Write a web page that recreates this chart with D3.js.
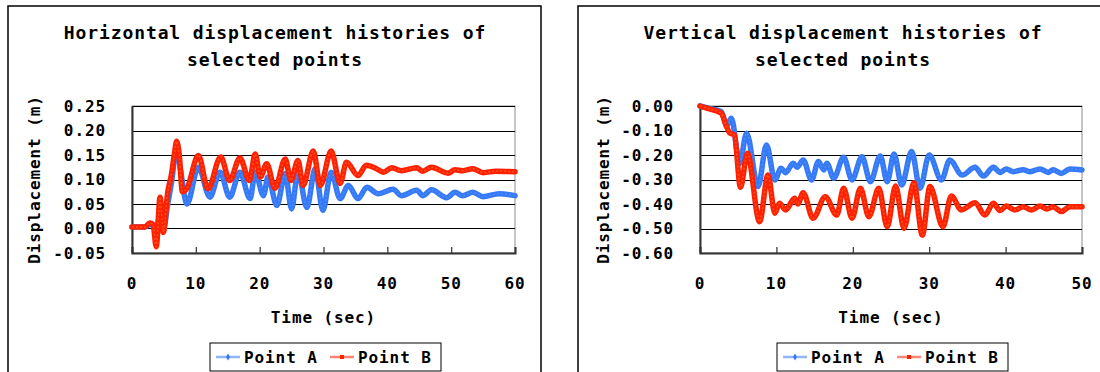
<!DOCTYPE html>
<html>
<head>
<meta charset="utf-8">
<script src="https://cdn.jsdelivr.net/npm/d3@7/dist/d3.min.js"></script>
<style>
  html, body { margin: 0; padding: 0; background: #fff; }
  svg text { font-family: "DejaVu Sans Mono", monospace; fill: #000; font-weight: bold; }
</style>
</head>
<body>
<svg id="chart" width="1100" height="372"></svg>
<script>
// ---------- DATA ----------
// Horizontal displacement chart
const hTitle = ["Horizontal displacement histories of", "selected points"];
const hXTicks = [0, 10, 20, 30, 40, 50, 60];
const hYTicks = [-0.05, 0.00, 0.05, 0.10, 0.15, 0.20, 0.25];
const hTimeA = [0, 2.0, 2.8, 3.3, 3.8, 4.5, 5.0, 5.6, 6.2, 7.0, 7.6, 8.6, 10.4, 12.2, 13.8, 15.3, 16.9, 18.5, 19.3, 20.6, 21.3, 22.7, 24.0, 25.0, 26.0, 27.4, 28.7, 29.9, 31.2, 32.6, 33.9, 35.4, 36.8, 38.6, 40.9, 42.2, 44.6, 45.6, 46.9, 49.3, 50.6, 51.8, 53.4, 55.0, 57.5, 60.0];
const hPointA = [0.003, 0.003, 0.008, 0.006, -0.010, 0.043, 0.003, 0.050, 0.095, 0.165, 0.120, 0.050, 0.125, 0.064, 0.115, 0.064, 0.115, 0.061, 0.115, 0.067, 0.105, 0.047, 0.112, 0.040, 0.115, 0.043, 0.122, 0.037, 0.115, 0.061, 0.088, 0.061, 0.084, 0.071, 0.080, 0.067, 0.078, 0.067, 0.079, 0.063, 0.074, 0.067, 0.074, 0.065, 0.071, 0.067];
const hTimeB = [0, 2.0, 2.8, 3.3, 3.8, 4.4, 4.9, 5.6, 6.2, 6.6, 7.0, 7.4, 7.9, 8.6, 10.4, 11.9, 13.9, 15.3, 16.9, 18.4, 19.3, 20.1, 21.1, 22.4, 24.0, 24.9, 26.0, 26.8, 28.4, 29.5, 31.2, 32.6, 33.6, 35.4, 36.7, 38.3, 39.4, 40.7, 42.2, 44.6, 45.5, 46.9, 49.5, 50.6, 51.8, 53.4, 55.0, 57.0, 60.0];
const hPointB = [0.003, 0.003, 0.011, 0.008, -0.037, 0.064, -0.008, 0.074, 0.112, 0.148, 0.178, 0.150, 0.075, 0.082, 0.149, 0.081, 0.146, 0.098, 0.144, 0.098, 0.152, 0.105, 0.132, 0.082, 0.142, 0.098, 0.139, 0.088, 0.158, 0.088, 0.158, 0.092, 0.135, 0.108, 0.129, 0.122, 0.115, 0.124, 0.118, 0.124, 0.117, 0.125, 0.113, 0.120, 0.118, 0.122, 0.114, 0.117, 0.116];

// Vertical displacement chart
const vTitle = ["Vertical displacement histories of", "selected points"];
const vXTicks = [0, 10, 20, 30, 40, 50];
const vYTicks = [-0.60, -0.50, -0.40, -0.30, -0.20, -0.10, 0.00];
const vTimeA = [0, 1.0, 2.8, 3.5, 4.1, 5.2, 6.1, 7.6, 8.7, 9.8, 10.6, 11.2, 12.2, 12.7, 13.5, 14.6, 15.5, 16.2, 16.6, 17.5, 18.8, 19.9, 21.2, 22.3, 23.6, 24.5, 25.4, 26.4, 27.7, 28.8, 30.0, 31.6, 32.7, 34.3, 36.0, 37.1, 38.4, 39.3, 40.1, 41.0, 42.3, 43.2, 44.5, 45.6, 46.2, 47.3, 48.4, 50.0];
const vPointA = [0, -0.008, -0.023, -0.080, -0.050, -0.234, -0.111, -0.329, -0.159, -0.302, -0.254, -0.272, -0.234, -0.250, -0.220, -0.302, -0.227, -0.261, -0.234, -0.295, -0.209, -0.302, -0.207, -0.309, -0.204, -0.309, -0.196, -0.322, -0.186, -0.336, -0.200, -0.302, -0.220, -0.282, -0.250, -0.286, -0.250, -0.271, -0.257, -0.268, -0.260, -0.268, -0.257, -0.271, -0.260, -0.275, -0.257, -0.261];
const vTimeB = [0, 1.0, 2.8, 3.4, 3.9, 4.5, 5.3, 6.2, 7.8, 8.9, 9.8, 10.4, 11.2, 12.4, 12.8, 13.5, 14.8, 16.4, 17.9, 18.8, 19.9, 21.0, 22.1, 23.4, 24.5, 25.6, 26.7, 28.0, 29.1, 30.1, 31.8, 32.9, 34.2, 36.0, 37.3, 38.4, 39.3, 40.1, 41.2, 42.3, 43.4, 44.5, 45.4, 46.2, 47.3, 48.4, 50.0];
const vPointB = [0, -0.010, -0.030, -0.078, -0.110, -0.118, -0.332, -0.193, -0.472, -0.282, -0.438, -0.397, -0.424, -0.377, -0.400, -0.354, -0.458, -0.370, -0.445, -0.336, -0.458, -0.336, -0.452, -0.336, -0.493, -0.327, -0.499, -0.313, -0.527, -0.329, -0.493, -0.367, -0.424, -0.395, -0.445, -0.397, -0.427, -0.408, -0.424, -0.411, -0.424, -0.408, -0.420, -0.411, -0.431, -0.411, -0.411];

const seriesNames = ["Point A", "Point B"];
const seriesColors = ["#3579f6", "#ff2000"];
const xLabel = "Time (sec)";
const yLabel = "Displacement (m)";

// ---------- DRAW ----------
const svg = d3.select("#chart");

function drawPanel(cfg) {
  const g = svg.append("g");
  g.append("rect")
    .attr("x", cfg.frame[0]).attr("y", cfg.frame[1])
    .attr("width", cfg.frame[2]).attr("height", cfg.frame[3])
    .attr("fill", "#fff").attr("stroke", "#000").attr("stroke-width", 1.5);

  const x = d3.scaleLinear().domain(cfg.xDomain).range([cfg.plot.left, cfg.plot.right]);
  const y = d3.scaleLinear().domain(cfg.yDomain).range([cfg.plot.bottom, cfg.plot.top]);

  cfg.title.forEach((t, i) => {
    g.append("text").attr("x", cfg.titleX).attr("y", 39 + i * 27)
      .attr("text-anchor", "middle").attr("font-size", 18).attr("letter-spacing", 0.9)
      .text(t);
  });

  g.append("rect")
    .attr("x", cfg.plot.left).attr("y", cfg.plot.top)
    .attr("width", cfg.plot.right - cfg.plot.left).attr("height", cfg.plot.bottom - cfg.plot.top)
    .attr("fill", "none").attr("stroke", "#8c8c8c").attr("stroke-width", 1);

  g.append("g").selectAll("line").data(cfg.yTicks).join("line")
    .attr("x1", cfg.plot.left).attr("x2", cfg.plot.right)
    .attr("y1", d => Math.round(y(d)) + 0.5).attr("y2", d => Math.round(y(d)) + 0.5)
    .attr("stroke", "#000").attr("stroke-width", 1);

  const xAxis = d3.axisTop(x).tickValues(cfg.xTicks).tickSize(6).tickFormat("");
  const xa = g.append("g").attr("transform", `translate(0,${cfg.plot.bottom})`).call(xAxis);
  xa.select(".domain").attr("stroke", "#333").attr("stroke-width", 2);
  xa.selectAll(".tick line").attr("stroke", "#333").attr("stroke-width", 1.2);
  g.append("g").selectAll("text").data(cfg.xTicks).join("text")
    .attr("x", d => x(d)).attr("y", cfg.plot.bottom + 36)
    .attr("text-anchor", "middle").attr("font-size", 16).attr("letter-spacing", 0.9)
    .text(d => d3.format("d")(d));

  const yAxis = d3.axisRight(y).tickValues(cfg.yTicks).tickSize(0).tickFormat("");
  const ya = g.append("g").attr("transform", `translate(${cfg.plot.left},0)`).call(yAxis);
  ya.select(".domain").attr("stroke", "#333").attr("stroke-width", 2);
  g.append("g").selectAll("text").data(cfg.yTicks).join("text")
    .attr("x", cfg.plot.left - 26).attr("y", d => y(d))
    .attr("dy", "0.36em")
    .attr("text-anchor", "end").attr("font-size", 16).attr("letter-spacing", 0.9)
    .text(d => d3.format(".2f")(d).replace("−", "-"));

  g.append("text").attr("x", (cfg.plot.left + cfg.plot.right) / 2).attr("y", cfg.plot.bottom + 70)
    .attr("text-anchor", "middle").attr("font-size", 16).attr("letter-spacing", 0.9).text(xLabel);
  g.append("text")
    .attr("transform", `translate(${cfg.yTitleX},${(cfg.plot.top + cfg.plot.bottom) / 2}) rotate(-90)`)
    .attr("text-anchor", "middle").attr("dy", "0.36em").attr("font-size", 16).attr("letter-spacing", 0.9)
    .text(yLabel);

  const line = d3.line().x(d => x(d[0])).y(d => y(d[1])).curve(d3.curveMonotoneX);
  cfg.series.forEach((s, i) => {
    const pts = s.t.map((t, k) => [t, s.v[k]]);
    g.append("path").datum(pts)
      .attr("d", line).attr("fill", "none")
      .attr("stroke", seriesColors[i]).attr("stroke-width", 5.5)
      .attr("stroke-linejoin", "round").attr("stroke-linecap", "round");
    g.append("path").datum(pts)
      .attr("d", line).attr("fill", "none")
      .attr("stroke", i === 0 ? "#4a8cff" : "#ff5020").attr("stroke-width", 1.5)
      .attr("stroke-dasharray", "2 2");
  });

  const L = cfg.legend;
  const lg = g.append("g").attr("transform", `translate(${L.x},${L.y})`);
  lg.append("rect").attr("x", 0).attr("y", 0).attr("width", L.w).attr("height", 28)
    .attr("fill", "#fff").attr("stroke", "#000").attr("stroke-width", 1);
  const offsets = [6, 120];
  seriesNames.forEach((n, i) => {
    const ox = offsets[i];
    lg.append("line").attr("x1", ox).attr("x2", ox + 24).attr("y1", 14).attr("y2", 14)
      .attr("stroke", seriesColors[i]).attr("stroke-opacity", 0.55).attr("stroke-width", 2.5);
    if (i === 0) {
      lg.append("path").attr("d", d3.symbol(d3.symbolDiamond, 14)())
        .attr("transform", `translate(${ox + 12},14)`).attr("fill", seriesColors[i]);
    } else {
      lg.append("rect").attr("x", ox + 10).attr("y", 12).attr("width", 4).attr("height", 4)
        .attr("fill", seriesColors[i]);
    }
    lg.append("text").attr("x", ox + 28).attr("y", 20).attr("font-size", 16).attr("letter-spacing", 0.9).text(n);
  });
}

drawPanel({
  frame: [8, 6, 533, 380],
  xDomain: [0, 60], yDomain: [-0.05, 0.25],
  plot: { left: 132, right: 515, top: 106, bottom: 253 },
  title: hTitle, titleX: 275,
  xTicks: hXTicks, yTicks: hYTicks,
  yTitleX: 34,
  series: [{ t: hTimeA, v: hPointA }, { t: hTimeB, v: hPointB }],
  legend: { x: 210, y: 343, w: 231 }
});

drawPanel({
  frame: [578, 6, 540, 380],
  xDomain: [0, 50], yDomain: [-0.60, 0.00],
  plot: { left: 700, right: 1082, top: 106, bottom: 253 },
  title: vTitle, titleX: 843,
  xTicks: vXTicks, yTicks: vYTicks,
  yTitleX: 603,
  series: [{ t: vTimeA, v: vPointA }, { t: vTimeB, v: vPointB }],
  legend: { x: 777, y: 343, w: 231 }
});
</script>
</body>
</html>
